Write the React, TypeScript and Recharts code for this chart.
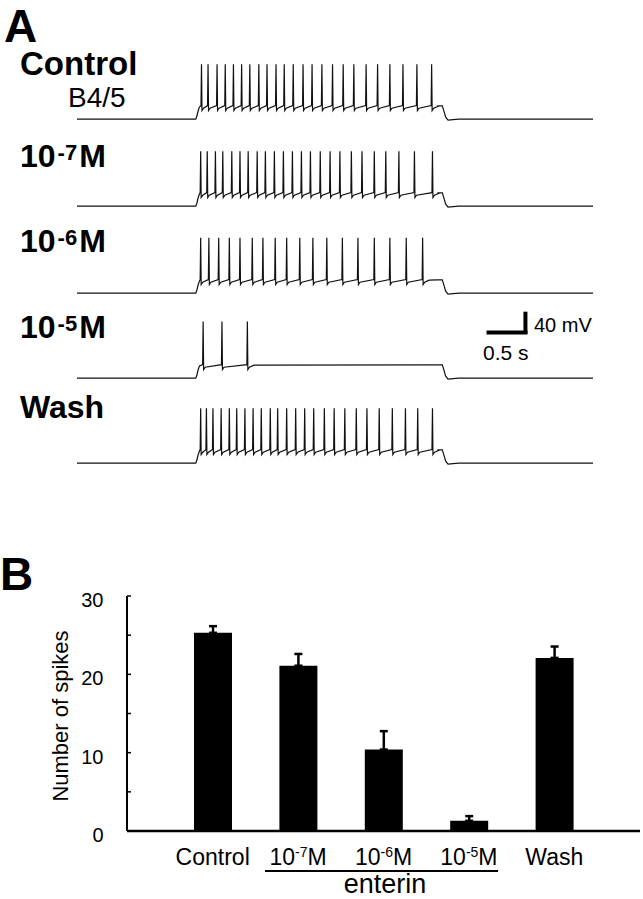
import React from 'react';
import { LineChart, Line, XAxis, YAxis, ReferenceLine, BarChart, Bar, ErrorBar } from 'recharts';

// ---------- Panel A: spike times (s) ----------
const spikesControl = [1.52, 1.60, 1.71, 1.81, 1.91, 2.01, 2.11, 2.22, 2.32, 2.43, 2.53, 2.64, 2.76, 2.87, 2.99, 3.12, 3.25, 3.38, 3.53, 3.67, 3.82, 3.98, 4.15, 4.33];
const spikes1e7 = [1.51, 1.59, 1.69, 1.78, 1.89, 1.99, 2.09, 2.20, 2.30, 2.41, 2.52, 2.63, 2.74, 2.85, 2.97, 3.09, 3.21, 3.35, 3.48, 3.63, 3.77, 3.93, 4.12, 4.34];
const spikes1e6 = [1.51, 1.61, 1.73, 1.86, 1.99, 2.14, 2.27, 2.42, 2.56, 2.72, 2.88, 3.05, 3.24, 3.43, 3.63, 3.82, 4.02, 4.22];
const spikes1e5 = [1.54, 1.77, 2.08];
const spikesWash = [1.51, 1.58, 1.66, 1.76, 1.86, 1.95, 2.05, 2.15, 2.25, 2.36, 2.45, 2.56, 2.67, 2.78, 2.89, 3.02, 3.14, 3.27, 3.41, 3.54, 3.69, 3.85, 4.01, 4.16, 4.34];
const traceSpikes = [spikesControl, spikes1e7, spikes1e6, spikes1e5, spikesWash];
const tracePeaks = [95, 95, 96, 98, 95]; // mV above rest
const traceLabelMain = ['Control', '10', '10', '10', 'Wash'];
const traceLabelSup = ['', '-7', '-6', '-5', ''];
const traceLabelSuffix = ['', 'M', 'M', 'M', ''];

// ---------- Panel B: number of spikes ----------
const barCategories = ['Control', '10-7M', '10-6M', '10-5M', 'Wash'];
const tickMain = ['Control', '10', '10', '10', 'Wash'];
const tickSup = ['', '-7', '-6', '-5', ''];
const tickSuffix = ['', 'M', 'M', 'M', ''];
const meanSpikes = [25.3, 21.1, 10.4, 1.3, 22.1];
const semSpikes = [0.85, 1.5, 2.35, 0.6, 1.45];
const yTicks = [0, 5, 10, 15, 20, 25, 30];

// stimulus / sweep timing (s) and levels (mV relative to rest)
const PULSE_ON = 1.45;
const PULSE_OFF = 4.46;
const SWEEP_END = 6.3;
const PLATEAU = 22;

function buildTrace(spikes: number[], peak: number) {
  const pts: { t: number; v: number }[] = [
    { t: 0, v: 0 },
    { t: PULSE_ON, v: 0 },
    { t: PULSE_ON + 0.015, v: 6 },
    { t: PULSE_ON + 0.03, v: 15 },
    { t: PULSE_ON + 0.045, v: 21 },
  ];
  spikes.forEach((ts) => {
    pts.push({ t: ts - 0.006, v: PLATEAU + 1.5 });
    pts.push({ t: ts, v: peak });
    pts.push({ t: ts + 0.006, v: PLATEAU - 7 });
    pts.push({ t: ts + 0.025, v: PLATEAU - 3 });
  });
  const last = spikes[spikes.length - 1];
  pts.push({ t: last + 0.08, v: PLATEAU + 0.5 });
  pts.push({ t: PULSE_OFF - 0.06, v: PLATEAU + 1 });
  pts.push({ t: PULSE_OFF, v: PLATEAU + 1 });
  pts.push({ t: PULSE_OFF + 0.02, v: 14 });
  pts.push({ t: PULSE_OFF + 0.04, v: 4 });
  pts.push({ t: PULSE_OFF + 0.07, v: -1.5 });
  pts.push({ t: PULSE_OFF + 0.2, v: 0 });
  pts.push({ t: SWEEP_END, v: 0 });
  return pts;
}

const traceBaselineY = [119.5, 206, 293, 378.5, 463];
const labelBaselineY = [75, 166.5, 251.5, 338, 418];

const FONT = '"Liberation Sans", Arial, Helvetica, sans-serif';
const CH = 81; // trace chart height
const ZERO_OFFSET = CH - 10 * (CH / 140); // y of 0 mV inside chart

const barData = barCategories.map((name, i) => ({
  name,
  idx: i,
  mean: meanSpikes[i],
  err: [0, semSpikes[i]],
}));

const XTick = (props: any) => {
  const { x, y, index } = props;
  const i = index ?? 0;
  return (
    <text x={x} y={y + 34} textAnchor="middle" fontFamily={FONT} fontSize={23} fill="#000">
      <tspan>{tickMain[i]}</tspan>
      {tickSup[i] ? (
        <tspan fontSize={14} dy={-8}>{tickSup[i]}</tspan>
      ) : null}
      {tickSuffix[i] ? <tspan dy={8}>{tickSuffix[i]}</tspan> : null}
    </text>
  );
};

const YTick = (props: any) => {
  const { x, y, payload } = props;
  const v = payload.value;
  return (
    <g>
      <line x1={x} x2={x + 4} y1={y} y2={y} stroke="#000" strokeWidth={1.5} />
      {v % 10 === 0 ? (
        <text x={x - 23.5} y={y + 11} textAnchor="end" fontFamily={FONT} fontSize={20} fill="#000">
          {v}
        </text>
      ) : null}
    </g>
  );
};

const YLabel = () => (
  <text
    x={60}
    y={146}
    transform="rotate(-90 60 146)"
    textAnchor="middle"
    dominantBaseline="central"
    fontFamily={FONT}
    fontSize={22}
    fill="#000"
  >
    Number of spikes
  </text>
);

export default function App() {
  return (
    <div style={{ position: 'absolute', left: 0, top: 0, width: 643, height: 899, background: '#fff', overflow: 'hidden' }}>
      {traceSpikes.map((sp, i) => (
        <div key={i} style={{ position: 'absolute', left: 77, top: traceBaselineY[i] - ZERO_OFFSET }}>
          <LineChart width={516} height={CH} data={buildTrace(sp, tracePeaks[i])} margin={{ top: 0, right: 0, bottom: 0, left: 0 }}>
            <XAxis type="number" dataKey="t" domain={[0, SWEEP_END]} hide allowDataOverflow />
            <YAxis type="number" domain={[-10, 130]} hide allowDataOverflow />
            <Line type="linear" dataKey="v" stroke="#111" strokeWidth={1.2} dot={false} isAnimationActive={false} />
            {i === 3 ? (
              <ReferenceLine segment={[{ x: 5.0, y: 79 }, { x: 5.5, y: 79 }]} stroke="#000" strokeWidth={4} />
            ) : null}
            {i === 3 ? (
              <ReferenceLine segment={[{ x: 5.475, y: 77 }, { x: 5.475, y: 115 }]} stroke="#000" strokeWidth={4} />
            ) : null}
          </LineChart>
        </div>
      ))}

      <div style={{ position: 'absolute', left: 0, top: 570 }}>
        <BarChart width={643} height={329} data={barData} margin={{ top: 26, right: 3, bottom: 0, left: 0 }}>
          <XAxis
            dataKey="name"
            height={68}
            axisLine={{ stroke: '#000', strokeWidth: 2.5 }}
            tickLine={false}
            tickSize={0}
            tickMargin={0}
            interval={0}
            padding={{ left: 43, right: 43 }}
            tick={(p: any) => <XTick {...p} />}
          />
          <YAxis
            width={127}
            domain={[0, 30]}
            ticks={yTicks}
            axisLine={{ stroke: '#000', strokeWidth: 2 }}
            tickLine={false}
            tickSize={0}
            tickMargin={0}
            interval={0}
            tick={(p: any) => <YTick {...p} />}
            label={() => <YLabel />}
          />
          <Bar dataKey="mean" fill="#000" barSize={38} isAnimationActive={false}>
            <ErrorBar dataKey="err" direction="y" width={4} stroke="#000" strokeWidth={2.5} />
          </Bar>
        </BarChart>
      </div>

      <svg width={643} height={899} style={{ position: 'absolute', left: 0, top: 0, pointerEvents: 'none' }} fontFamily={FONT}>
        <text x={4} y={42} fontSize={46} fontWeight="bold">A</text>
        {traceLabelMain.map((m, i) => (
          <text key={i} x={20} y={labelBaselineY[i]} fontSize={i === 0 ? 33 : 32} fontWeight="bold">
            <tspan>{m}</tspan>
            {traceLabelSup[i] ? <tspan fontSize={22} dx={2} dy={-7}>{traceLabelSup[i]}</tspan> : null}
            {traceLabelSuffix[i] ? <tspan dx={2} dy={7}>{traceLabelSuffix[i]}</tspan> : null}
          </text>
        ))}
        <text x={68} y={106.5} fontSize={28}>B4/5</text>
        <text x={534} y={332} fontSize={20}>40 mV</text>
        <text x={483} y={360} fontSize={21}>0.5 s</text>

        <text x={0} y={590} fontSize={46} fontWeight="bold">B</text>
        <line x1={265} x2={498} y1={871} y2={871} stroke="#000" strokeWidth={2} />
        <text x={385} y={893} fontSize={27} textAnchor="middle">enterin</text>
      </svg>
    </div>
  );
}
